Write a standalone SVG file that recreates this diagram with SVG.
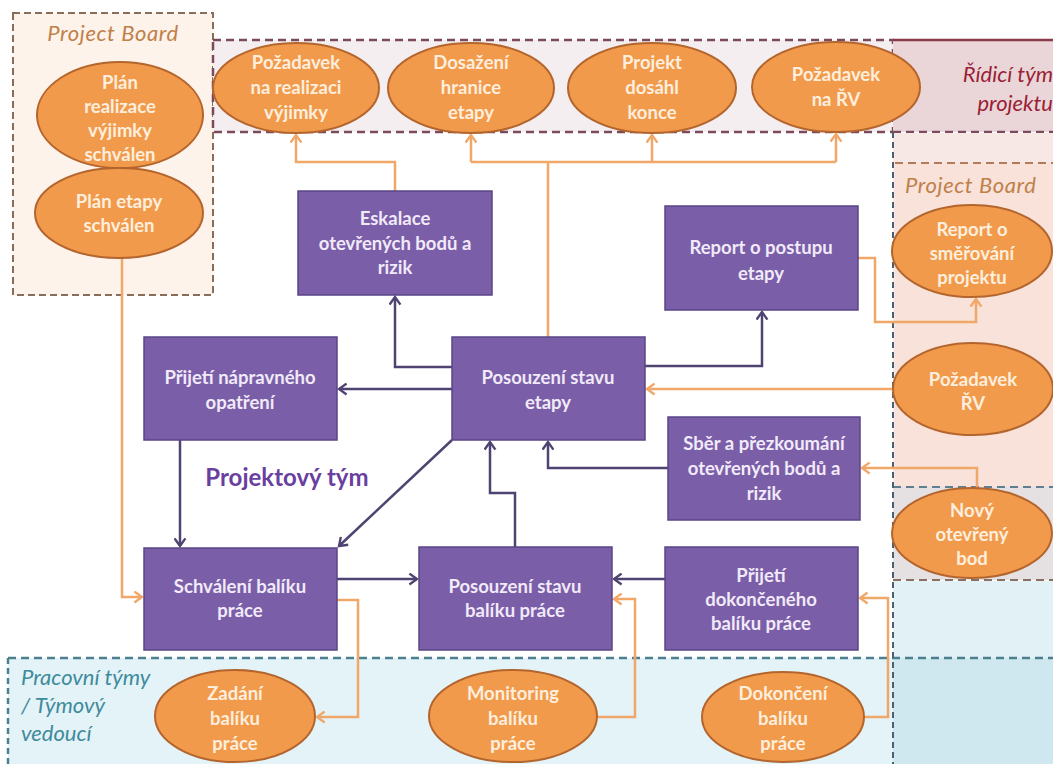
<svg xmlns="http://www.w3.org/2000/svg" width="1053" height="764" viewBox="0 0 1053 764">
<style>
.box{fill:#7b5ea8;stroke:#5a4587;stroke-width:1.5}
.btx{font-family:Lato,"Open Sans",sans-serif;font-weight:bold;font-size:18.5px;fill:#f1eaf8;text-anchor:middle}
.ell{fill:#f29a4c;stroke:#b3652d;stroke-width:2}
.etx{font-family:Lato,"Open Sans",sans-serif;font-weight:bold;font-size:18.5px;fill:#fdeedd;text-anchor:middle}
.oc{fill:none;stroke:#f0a767;stroke-width:2.5}
.pc{fill:none;stroke:#4f4471;stroke-width:2.5}
.lab{font-family:Lato,"Open Sans",sans-serif;font-style:italic;font-size:22px}
</style>
<defs>
<marker id="ao" viewBox="0 0 12 12" refX="10" refY="6" markerWidth="13" markerHeight="13" markerUnits="userSpaceOnUse" orient="auto">
<path d="M3,1 L10,6 L3,11" fill="none" stroke="#f0a767" stroke-width="2.2"/>
</marker>
<marker id="ap" viewBox="0 0 12 12" refX="10" refY="6" markerWidth="13" markerHeight="13" markerUnits="userSpaceOnUse" orient="auto">
<path d="M3,1 L10,6 L3,11" fill="none" stroke="#4f4471" stroke-width="2.2"/>
</marker>
</defs>
<rect width="1053" height="764" fill="#ffffff"/>
<g id="regions">
<rect x="13" y="13" width="200" height="282" fill="#fdf3ea" stroke="#8a6d58" stroke-width="2" stroke-dasharray="7,4"/>
<rect x="213" y="40" width="680" height="92" fill="#f4eef0" stroke="#7b4b5b" stroke-width="2.5" stroke-dasharray="8,5"/>
<rect x="893" y="40" width="162" height="92" fill="#ead6d9"/>
<line x1="893" y1="40" x2="1053" y2="40" stroke="#8b3a4b" stroke-width="2.5"/>
<line x1="893" y1="132" x2="1053" y2="132" stroke="#7b4b5b" stroke-width="2.5" stroke-dasharray="8,5"/>
<rect x="893" y="133" width="162" height="354" fill="#f8e8e5"/>
<rect x="895" y="163" width="160" height="324" fill="#f8e2da"/>
<line x1="895" y1="163" x2="1053" y2="163" stroke="#b57a58" stroke-width="2" stroke-dasharray="8,5"/>
<rect x="893" y="487" width="162" height="93" fill="#e5e0e2"/>
<line x1="893" y1="487" x2="1053" y2="487" stroke="#5f7f90" stroke-width="2" stroke-dasharray="8,5"/>
<line x1="893" y1="580" x2="1053" y2="580" stroke="#8a7060" stroke-width="2" stroke-dasharray="8,5"/>
<rect x="893" y="581" width="162" height="77" fill="#e1f1f6"/>
<rect x="8" y="658" width="1047" height="108" fill="#e3f3f8"/>
<rect x="893" y="658" width="162" height="108" fill="#cfe8f0"/>
<line x1="8" y1="658" x2="1053" y2="658" stroke="#4e7f8f" stroke-width="2.5" stroke-dasharray="8,5"/>
<line x1="8" y1="658" x2="8" y2="764" stroke="#4e7f8f" stroke-width="2.5" stroke-dasharray="6,4"/>
<line x1="893" y1="132" x2="893" y2="764" stroke="#4a5f70" stroke-width="2" stroke-dasharray="6,4"/>
<text class="lab" x="113" y="41" text-anchor="middle" fill="#c0804a" letter-spacing="0.6">Project Board</text>
<text class="lab" x="1053" y="82" text-anchor="end" fill="#9a1f35" font-size="24">Řídicí tým</text>
<text class="lab" x="1053" y="111" text-anchor="end" fill="#9a1f35" font-size="24">projektu</text>
<text class="lab" x="905" y="193" fill="#c0804a" letter-spacing="0.6">Project Board</text>
<text class="lab" x="21" y="685" fill="#3f8a9b" font-size="20.5">Pracovní týmy</text>
<text class="lab" x="21" y="713" fill="#3f8a9b" font-size="20.5">/ Týmový</text>
<text class="lab" x="21" y="741" fill="#3f8a9b" font-size="20.5">vedoucí</text>
<text x="287" y="486" text-anchor="middle" font-family="Lato,'Open Sans',sans-serif" font-weight="bold" font-size="24" fill="#6a3f9f">Projektový tým</text>
</g>
<g id="connectors">
<polyline class="oc" points="395,191 395,162 296,162 296,135" marker-end="url(#ao)"/>
<polyline class="oc" points="548,337 548,162"/>
<polyline class="oc" points="471,162 836,162"/>
<polyline class="oc" points="471,162 471,135" marker-end="url(#ao)"/>
<polyline class="oc" points="652,162 652,135" marker-end="url(#ao)"/>
<polyline class="oc" points="836,162 836,134" marker-end="url(#ao)"/>
<polyline class="oc" points="858,258 875,258 875,322 976,322 976,299" marker-end="url(#ao)"/>
<polyline class="oc" points="893,389 647,389" marker-end="url(#ao)"/>
<polyline class="oc" points="977,488 977,468 862,468" marker-end="url(#ao)"/>
<polyline class="oc" points="863,717 888,717 888,598 860,598" marker-end="url(#ao)"/>
<polyline class="oc" points="597,717 635,717 635,599 614,599" marker-end="url(#ao)"/>
<polyline class="oc" points="337,600 358,600 358,717 317,717" marker-end="url(#ao)"/>
<polyline class="oc" points="122,258 122,597 142,597" marker-end="url(#ao)"/>
<polyline class="pc" points="452,367 395,367 395,297" marker-end="url(#ap)"/>
<polyline class="pc" points="452,389 339,389" marker-end="url(#ap)"/>
<polyline class="pc" points="645,366 762,366 762,312" marker-end="url(#ap)"/>
<polyline class="pc" points="668,468 548,468 548,442" marker-end="url(#ap)"/>
<polyline class="pc" points="515,547 515,493 490,493 490,442" marker-end="url(#ap)"/>
<polyline class="pc" points="452,440 339,546" marker-end="url(#ap)"/>
<polyline class="pc" points="180,440 180,546" marker-end="url(#ap)"/>
<polyline class="pc" points="337,579 417,579" marker-end="url(#ap)"/>
<polyline class="pc" points="665,579 614,579" marker-end="url(#ap)"/>
</g>
<g id="n_plan_vyjimky"><ellipse class="ell" cx="120" cy="115" rx="83" ry="53"/>
<text class="etx" x="120" y="89">Plán</text><text class="etx" x="120" y="113">realizace</text><text class="etx" x="120" y="137">výjimky</text><text class="etx" x="120" y="161">schválen</text></g>
<g id="n_plan_etapy"><ellipse class="ell" cx="119" cy="213" rx="84" ry="45"/>
<text class="etx" x="119" y="208">Plán etapy</text><text class="etx" x="119" y="232">schválen</text></g>
<g id="n_pozadavek_vyjimky"><ellipse class="ell" cx="296" cy="88" rx="83" ry="45"/>
<text class="etx" x="296" y="69">Požadavek</text><text class="etx" x="296" y="94">na realizaci</text><text class="etx" x="296" y="119">výjimky</text></g>
<g id="n_dosazeni"><ellipse class="ell" cx="471" cy="88" rx="83" ry="45"/>
<text class="etx" x="471" y="69">Dosažení</text><text class="etx" x="471" y="94">hranice</text><text class="etx" x="471" y="119">etapy</text></g>
<g id="n_konec"><ellipse class="ell" cx="652" cy="88" rx="84" ry="45"/>
<text class="etx" x="652" y="69">Projekt</text><text class="etx" x="652" y="94">dosáhl</text><text class="etx" x="652" y="119">konce</text></g>
<g id="n_pozadavek_rv"><ellipse class="ell" cx="836" cy="87" rx="84" ry="45"/>
<text class="etx" x="836" y="81">Požadavek</text><text class="etx" x="836" y="106">na ŘV</text></g>
<g id="n_report_smer"><ellipse class="ell" cx="972" cy="251" rx="80" ry="46"/>
<text class="etx" x="972" y="236">Report o</text><text class="etx" x="972" y="260">směřování</text><text class="etx" x="972" y="284">projektu</text></g>
<g id="n_pozadavek_rv2"><ellipse class="ell" cx="973" cy="389" rx="80" ry="46"/>
<text class="etx" x="973" y="386">Požadavek</text><text class="etx" x="973" y="410">ŘV</text></g>
<g id="n_novy"><ellipse class="ell" cx="972" cy="533" rx="80" ry="45"/>
<text class="etx" x="972" y="517">Nový</text><text class="etx" x="972" y="541">otevřený</text><text class="etx" x="972" y="565">bod</text></g>
<g id="n_zadani"><ellipse class="ell" cx="235" cy="716" rx="80" ry="46"/>
<text class="etx" x="235" y="700">Zadání</text><text class="etx" x="235" y="725">balíku</text><text class="etx" x="235" y="750">práce</text></g>
<g id="n_monitoring"><ellipse class="ell" cx="513" cy="716" rx="84" ry="46"/>
<text class="etx" x="513" y="700">Monitoring</text><text class="etx" x="513" y="725">balíku</text><text class="etx" x="513" y="750">práce</text></g>
<g id="n_dokonceni"><ellipse class="ell" cx="783" cy="717" rx="81" ry="45"/>
<text class="etx" x="783" y="700">Dokončení</text><text class="etx" x="783" y="725">balíku</text><text class="etx" x="783" y="750">práce</text></g>
<g id="n_eskalace"><rect class="box" x="298" y="191" width="194" height="104"/>
<text class="btx" x="395" y="225">Eskalace</text><text class="btx" x="395" y="250">otevřených bodů a</text><text class="btx" x="395" y="274">rizik</text></g>
<g id="n_report_postup"><rect class="box" x="665" y="206" width="193" height="104"/>
<text class="btx" x="761" y="254">Report o postupu</text><text class="btx" x="761" y="280">etapy</text></g>
<g id="n_prijeti_napr"><rect class="box" x="144" y="337" width="193" height="103"/>
<text class="btx" x="240" y="384">Přijetí nápravného</text><text class="btx" x="240" y="409">opatření</text></g>
<g id="n_posouzeni_etapy"><rect class="box" x="452" y="337" width="193" height="103"/>
<text class="btx" x="548" y="384">Posouzení stavu</text><text class="btx" x="548" y="409">etapy</text></g>
<g id="n_sber"><rect class="box" x="668" y="417" width="192" height="103"/>
<text class="btx" x="764" y="450">Sběr a přezkoumání</text><text class="btx" x="764" y="475">otevřených bodů a</text><text class="btx" x="764" y="500">rizik</text></g>
<g id="n_schvaleni"><rect class="box" x="144" y="548" width="193" height="102"/>
<text class="btx" x="240" y="593">Schválení balíku</text><text class="btx" x="240" y="617">práce</text></g>
<g id="n_posouzeni_baliku"><rect class="box" x="419" y="547" width="193" height="103"/>
<text class="btx" x="515" y="593">Posouzení stavu</text><text class="btx" x="515" y="617">balíku práce</text></g>
<g id="n_prijeti_dok"><rect class="box" x="665" y="547" width="193" height="103"/>
<text class="btx" x="761" y="582">Přijetí</text><text class="btx" x="761" y="606">dokončeného</text><text class="btx" x="761" y="630">balíku práce</text></g>
</svg>
